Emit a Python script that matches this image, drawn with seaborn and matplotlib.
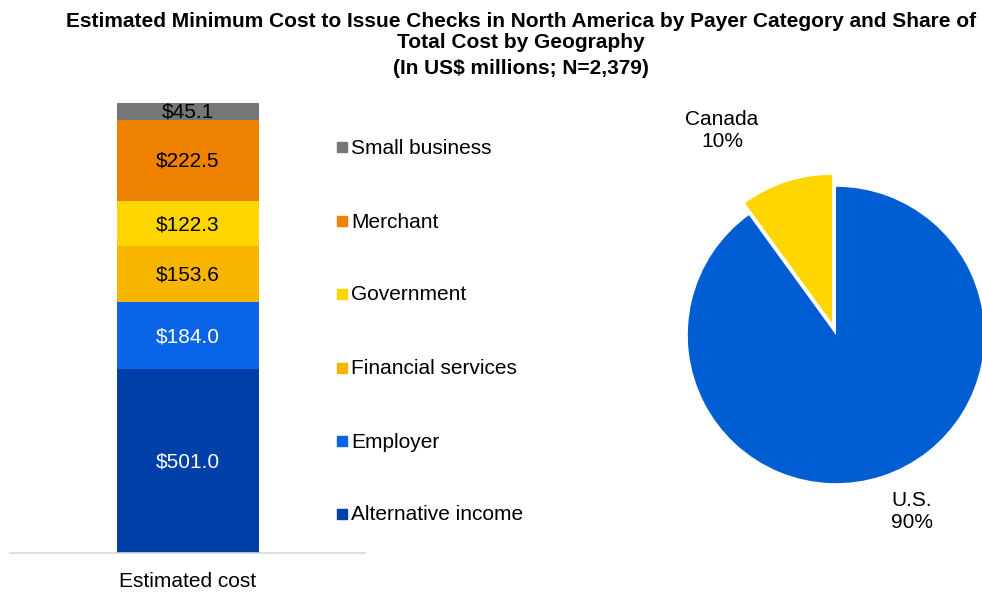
import matplotlib
matplotlib.use("Agg")
import matplotlib.pyplot as plt
import seaborn as sns
import pandas as pd
from matplotlib.patches import Rectangle

sns.set_theme(style="white")
plt.rcParams['font.family'] = ['Liberation Sans', 'DejaVu Sans']
plt.rcParams['text.color'] = 'black'

# ---- data ----
categories = ["Alternative income", "Employer", "Financial services",
              "Government", "Merchant", "Small business"]
values = [501.0, 184.0, 153.6, 122.3, 222.5, 45.1]
bar_colors = ["#0040A8", "#0A64E8", "#F7B500", "#FFD500", "#EF8200", "#74777A"]
label_colors = ["white", "white", "black", "black", "black", "black"]
bar_category = "Estimated cost"

geo_labels = ["U.S.", "Canada"]
geo_shares = [90, 10]
geo_colors = ["#005ED2", "#FFD500"]

title_main = ("Estimated Minimum Cost to Issue Checks in North America by Payer Category and Share of\n"
              "Total Cost by Geography")
title_sub = "(In US$ millions; N=2,379)"

W, H = 982, 592
fig = plt.figure(figsize=(W / 100, H / 100), dpi=100)

# ---- stacked bar ----
ax = fig.add_axes([10 / W, (H - 553) / H, 355 / W, 450 / H])
df = pd.DataFrame({"cat": [bar_category] * len(values), "payer": categories, "value": values})
bottom = 0.0
for i, row in df.iterrows():
    sns.barplot(x=[row["cat"]], y=[row["value"]], ax=ax, color=bar_colors[i],
                bottom=bottom, width=0.4, saturation=1, linewidth=0)
    ax.text(0, bottom + row["value"] / 2 - 3, f"${row['value']:.1f}", ha="center", va="center",
            fontsize=15, color=label_colors[i])
    bottom += row["value"]
ax.set_xlim(-0.5, 0.5)
ax.set_ylim(0, sum(values))
ax.set_yticks([])
ax.set_ylabel("")
ax.set_xlabel("")
for s in ["top", "right", "left"]:
    ax.spines[s].set_visible(False)
ax.spines["bottom"].set_color("#D9D9D9")
ax.spines["bottom"].set_linewidth(1.2)
ax.tick_params(axis="x", length=0, labelsize=15, pad=14, colors="black")

# ---- legend ----
leg_y = [147, 221, 294, 368, 441, 514]
for cat, col, y in zip(categories[::-1], bar_colors[::-1], leg_y):
    fig.patches.append(Rectangle((337 / W, (H - y - 5) / H), 10 / W, 10 / H,
                                 transform=fig.transFigure, color=col))
    fig.text(351 / W, (H - y - 1) / H, cat, fontsize=15, va="center", ha="left")

# ---- pie ----
pax = fig.add_axes([(836 - 163) / W, (H - 335 - 163) / H, 326 / W, 326 / H])
pax.pie(geo_shares, colors=geo_colors, startangle=90, counterclock=False,
        explode=[0, 0.085], wedgeprops=dict(linewidth=0))
pax.set_xlim(-1.1, 1.1)
pax.set_ylim(-1.1, 1.1)
pax.set_aspect("equal")
pax.axis("off")
label_pos = {"U.S.": (0.51, -1.19), "Canada": (-0.77, 1.38)}
for lab, sh in zip(geo_labels, geo_shares):
    x, y = label_pos[lab]
    pax.text(x, y, f"{lab}\n{sh}%", ha="center", va="center", fontsize=15,
             linespacing=1.2, clip_on=False)

fig.text(521 / W, (H - 32) / H, title_main, ha="center", va="center", fontsize=15,
         fontweight="bold", linespacing=1.12)
fig.text(521 / W, (H - 69) / H, title_sub, ha="center", va="center", fontsize=15,
         fontweight="bold")

fig.savefig("out.png", dpi=100)
